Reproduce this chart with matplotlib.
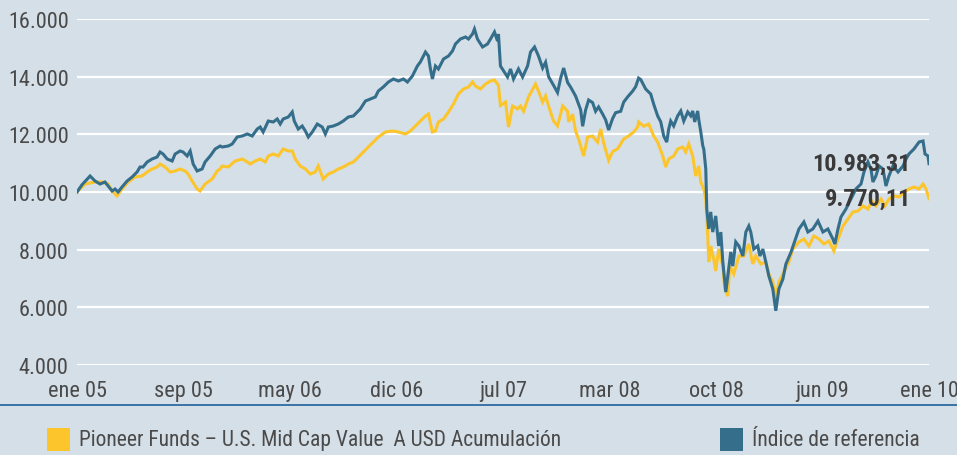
import matplotlib
matplotlib.use("Agg")
import matplotlib.pyplot as plt
from matplotlib import font_manager
from matplotlib.patches import Rectangle
from matplotlib.lines import Line2D

# --- data: months since January 2005 and value of a 10.000 investment ---
fund_months = [0, 0.56, 1.27, 1.76, 2.19, 2.47, 2.82, 3.17, 3.6, 4.09, 4.58, 4.94, 5.29, 5.64, 5.85,
               6.2, 6.56, 6.91, 7.26, 7.61, 7.83, 8.11, 8.46, 8.67, 9.02, 9.52, 9.87, 10.08, 10.22,
               10.65, 11.14, 11.63, 11.99, 12.2, 12.55, 12.9, 13.26, 13.47, 13.82, 14.17, 14.52,
               14.88, 15.16, 15.37, 15.72, 16.08, 16.43, 16.78, 16.99, 17.34, 17.7, 18.05, 18.4,
               18.75, 19.11, 19.46, 19.81, 20.5, 21.22, 21.72, 22.21, 22.63, 23.13, 23.48, 23.83,
               24.18, 24.54, 24.75, 25.03, 25.24, 25.45, 25.81, 26.16, 26.51, 26.86, 27.22, 27.57,
               27.85, 28.06, 28.41, 28.77, 29.12, 29.4, 29.68, 29.82, 30.18, 30.39, 30.67, 31.02,
               31.23, 31.45, 31.8, 32.29, 32.5, 32.79, 33.0, 33.21, 33.56, 33.84, 34.2, 34.55,
               34.62, 34.9, 35.11, 35.32, 35.68, 35.96, 36.31, 36.66, 36.88, 37.09, 37.44, 37.72,
               38.07, 38.5, 38.85, 39.2, 39.48, 39.55, 39.91, 40.26, 40.61, 40.89, 41.25, 41.46,
               41.67, 42.02, 42.3, 42.66, 42.87, 43.08, 43.36, 43.57, 43.78, 43.93, 44.14, 44.28,
               44.42, 44.49, 44.63, 44.84, 44.98, 45.19, 45.48, 45.62, 45.83, 45.97, 46.25, 46.61,
               46.96, 47.31, 47.59, 47.8, 48.16, 48.51, 48.72, 49.0, 49.21, 49.43, 49.78, 50.13,
               50.41, 50.84, 51.19, 51.54, 51.89, 52.25, 52.6, 52.95, 53.3, 53.59, 53.94, 54.29,
               54.64, 55.0, 55.35, 55.7, 55.98, 56.26, 56.62, 56.9, 57.18, 57.53, 57.89, 58.24,
               58.59, 58.94, 59.3, 59.58, 59.79, 60.0]
fund_values = [10000, 10277, 10347, 10347, 10277, 10035, 9861, 10104, 10347, 10520, 10555, 10694,
               10798, 10867, 10971, 10867, 10694, 10728, 10798, 10728, 10624, 10382, 10104, 10035,
               10277, 10451, 10728, 10798, 10902, 10867, 11075, 11145, 11041, 10971, 11075, 11145,
               11041, 11249, 11318, 11249, 11491, 11422, 11422, 11145, 10902, 10798, 10624, 10694,
               10902, 10451, 10624, 10694, 10798, 10867, 10971, 11041, 11214, 11560, 11908, 12081,
               12116, 12081, 12012, 12116, 12289, 12462, 12636, 12705, 12081, 12116, 12428, 12532,
               12775, 13052, 13399, 13572, 13642, 13815, 13676, 13572, 13746, 13850, 13884, 13700,
               13000, 13120, 12250, 12983, 12880, 12983, 12800, 13300, 13746, 13500, 13120, 13330,
               12983, 12460, 12290, 12983, 12800, 12430, 12700, 12116, 11840, 11250, 11908, 11940,
               11730, 12185, 11700, 11100, 11400, 11500, 11838, 11942, 12081, 12254, 12430, 12280,
               12358, 11942, 11734, 11249, 10867, 11145, 11249, 11491, 11561, 11387, 11665, 11249,
               10555, 10902, 10347, 10104, 9757, 8474, 7572, 8127, 7676, 7260, 8023, 7433, 6636,
               6393, 7433, 7156, 7780, 7780, 8197, 7503, 7780, 7503, 7572, 7156, 6879, 6289, 6879,
               7225, 7572, 8023, 8266, 8370, 8127, 8474, 8370, 8197, 8301, 7954, 8370, 8821, 9064,
               9306, 9341, 9515, 9410, 9688, 9515, 9757, 9515, 9757, 9861, 9827, 10000, 10104,
               10174, 10104, 10277, 10104, 9770.11]

index_months = [0, 0.35, 0.92, 1.27, 1.62, 1.97, 2.47, 2.68, 2.89, 3.17, 3.53, 3.88, 4.23, 4.44,
                4.65, 4.94, 5.29, 5.64, 5.85, 6.06, 6.35, 6.7, 6.91, 7.26, 7.47, 7.76, 7.97, 8.18,
                8.46, 8.81, 9.02, 9.38, 9.73, 10.08, 10.22, 10.65, 10.93, 11.28, 11.63, 11.99,
                12.34, 12.69, 12.9, 13.11, 13.47, 13.82, 14.1, 14.31, 14.52, 14.88, 15.16, 15.3,
                15.58, 15.86, 16.08, 16.29, 16.57, 16.92, 17.27, 17.49, 17.7, 18.05, 18.4, 18.75,
                19.11, 19.46, 19.81, 19.95, 20.31, 20.66, 21.01, 21.22, 21.57, 21.93, 22.28, 22.63,
                22.99, 23.27, 23.62, 23.97, 24.18, 24.54, 24.75, 24.89, 25.03, 25.24, 25.45, 25.81,
                26.16, 26.44, 26.65, 27.0, 27.36, 27.57, 27.85, 27.99, 28.2, 28.56, 28.91, 29.12,
                29.4, 29.61, 29.68, 29.82, 30.04, 30.32, 30.53, 30.74, 31.09, 31.38, 31.73, 31.94,
                32.22, 32.5, 32.79, 33.0, 33.21, 33.56, 33.84, 34.06, 34.27, 34.55, 34.76, 35.11,
                35.47, 35.61, 35.82, 36.03, 36.31, 36.52, 36.73, 37.02, 37.23, 37.44, 37.72, 37.93,
                38.29, 38.5, 38.78, 39.13, 39.34, 39.55, 39.7, 40.05, 40.4, 40.61, 40.89, 41.11,
                41.32, 41.53, 41.67, 41.81, 42.02, 42.3, 42.52, 42.73, 43.01, 43.22, 43.36, 43.5,
                43.71, 43.78, 43.93, 44.07, 44.14, 44.28, 44.35, 44.49, 44.63, 44.77, 44.98, 45.19,
                45.34, 45.48, 45.69, 45.83, 46.04, 46.18, 46.39, 46.61, 46.89, 47.1, 47.31, 47.45,
                47.66, 47.94, 48.09, 48.3, 48.51, 48.72, 49.0, 49.21, 49.43, 49.71, 49.92, 50.27,
                50.41, 50.84, 51.19, 51.47, 51.82, 52.18, 52.53, 52.88, 53.23, 53.37, 53.59, 53.8,
                54.15, 54.5, 54.85, 55.21, 55.42, 55.7, 55.91, 56.05, 56.26, 56.48, 56.76, 56.97,
                57.18, 57.46, 57.82, 58.17, 58.38, 58.59, 58.94, 59.3, 59.58, 59.72, 59.93, 60.0]
index_values = [10000, 10250, 10555, 10382, 10277, 10347, 10035, 10104, 10000, 10174, 10382,
                10520, 10694, 10867, 10867, 11041, 11145, 11214, 11387, 11318, 11145, 11075,
                11318, 11422, 11387, 11249, 11422, 10971, 10728, 10798, 11041, 11249, 11491,
                11595, 11561, 11595, 11665, 11908, 11942, 12012, 11942, 12185, 12254, 12081,
                12462, 12428, 12532, 12358, 12532, 12602, 12775, 12462, 12185, 12289, 12116,
                11908, 12081, 12358, 12254, 12012, 12254, 12289, 12358, 12462, 12602, 12636,
                12809, 12879, 13156, 13225, 13295, 13503, 13642, 13815, 13919, 13850, 13919,
                13815, 14023, 14370, 14509, 14855, 14717, 14266, 13919, 14370, 14266, 14613,
                14717, 14890, 15133, 15306, 15376, 15306, 15480, 15653, 15306, 15029, 15133,
                15306, 15549, 15237, 15480, 14370, 14200, 13988, 14266, 13919, 14266, 13988,
                14370, 14855, 15029, 14717, 14300, 14500, 14000, 13700, 13450, 13950, 14300,
                13800, 13640, 13330, 12850, 12280, 12850, 13190, 13100, 12800, 12950, 12700,
                12500, 12150, 12550, 12750, 12800, 13120, 13300, 13500, 13650, 13950, 13900,
                13570, 13400, 13050, 12640, 12430, 11940, 11730, 12185, 12460, 12290, 12640,
                12810, 12460, 12775, 12640, 12810, 12430, 12810, 12530, 12080, 11600, 11490,
                10800, 9410, 8720, 9310, 8610, 9170, 8130, 8610, 7570, 6530, 7090, 7920, 7430,
                8270, 8130, 7780, 8610, 8820, 8610, 8020, 8130, 7780, 8020, 7570, 7090, 6640,
                5880, 6640, 6980, 7500, 7900, 8100, 8717, 8960, 8613, 8717, 8994, 8613, 8717,
                8370, 8197, 8717, 9133, 9410, 9757, 10104, 10277, 10694, 11041, 10798, 10347,
                10555, 10902, 10798, 10208, 10555, 10902, 10694, 10902, 11145, 11318, 11491,
                11734, 11769, 11318, 11249, 10983.31]

tick_months = [0, 7.5, 15, 22.5, 30, 37.5, 45, 52.5, 60]
tick_labels = ["ene 05", "sep 05", "may 06", "dic 06", "jul 07",
               "mar 08", "oct 08", "jun 09", "ene 10"]
y_ticks = [4000, 6000, 8000, 10000, 12000, 14000, 16000]
fund_name = "Pioneer Funds \u2013 U.S. Mid Cap Value  A USD Acumulaci\u00f3n"
index_name = "\u00cdndice de referencia"

# --- style ---
BG = "#d5dfe7"
FUND_COLOR = "#fdc52c"
INDEX_COLOR = "#356e8b"
TEXT = "#4a4a4a"

available = {f.name for f in font_manager.fontManager.ttflist}
family = [f for f in ["Liberation Sans Narrow", "Roboto Condensed", "Liberation Sans"]
          if f in available] + ["DejaVu Sans"]
plt.rcParams["font.family"] = family


def thousands(v):
    return f"{v:,.0f}".replace(",", ".")


def spanish(v):
    s = f"{v:,.2f}"
    return s.replace(",", "X").replace(".", ",").replace("X", ".")


W, H = 957, 456
fig = plt.figure(figsize=(W / 100, H / 100), dpi=100, facecolor=BG)
ax = fig.add_axes([77 / W, 1 - 366 / H, (929 - 77) / W, (366 - 20) / H])
ax.set_facecolor(BG)
for s in ax.spines.values():
    s.set_visible(False)

ax.set_xlim(0, 60)
ax.set_ylim(4000, 16000)
ax.set_yticks(y_ticks)
ax.set_yticklabels([thousands(v) for v in y_ticks])
ax.set_xticks(tick_months)
ax.set_xticklabels(tick_labels)
ax.tick_params(axis="both", length=0, labelsize=16, colors=TEXT)
ax.tick_params(axis="y", pad=6)
ax.tick_params(axis="x", pad=11)
ax.grid(axis="y", color="white", linewidth=1.6)
ax.set_axisbelow(True)

ax.plot(fund_months, fund_values, color=FUND_COLOR, linewidth=2.2,
        solid_joinstyle="miter", zorder=3)
ax.plot(index_months, index_values, color=INDEX_COLOR, linewidth=2.2,
        solid_joinstyle="miter", zorder=4)

for months, values in ((index_months, index_values), (fund_months, fund_values)):
    ax.annotate(spanish(values[-1]), xy=(months[-1], values[-1]),
                xytext=(-18, 0), textcoords="offset pixels",
                ha="right", va="center", fontsize=17.5, fontweight="bold",
                color="#3a3a3a", zorder=6)

# separator rule and legend below the plot
fig.add_artist(Line2D([0, 1], [1 - 406 / H] * 2, transform=fig.transFigure,
                      color="#2d6aa3", linewidth=1.3))
for x0, color, label in ((47, FUND_COLOR, fund_name), (720, INDEX_COLOR, index_name)):
    fig.add_artist(Rectangle((x0 / W, 1 - 452 / H), 23 / W, 23 / H,
                             transform=fig.transFigure, facecolor=color, edgecolor="none"))
    fig.text((x0 + 32) / W, 1 - 441 / H, label, ha="left", va="center",
             fontsize=15.5, color=TEXT)

fig.savefig("out.png", dpi=100, facecolor=BG)
